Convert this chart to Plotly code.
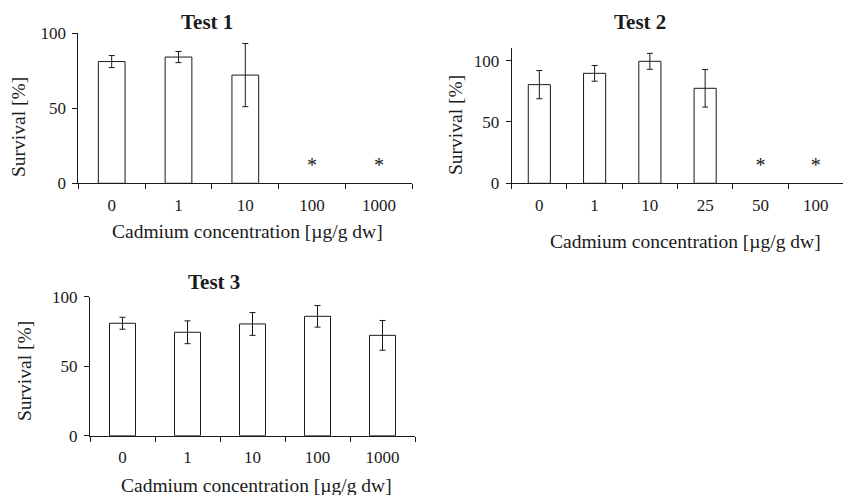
import plotly.graph_objects as go

# ---------------- data ----------------
t1_labels = ["0", "1", "10", "100", "1000"]
t1_mean = [81, 84, 72, None, None]
t1_err = [4, 3.7, 21, None, None]
t1_star = [None, None, None, 11, 11]

t2_labels = ["0", "1", "10", "25", "50", "100"]
t2_mean = [80.4, 89.6, 99.4, 77.4, None, None]
t2_err = [11.5, 6.4, 6.5, 15.3, None, None]
t2_star = [None, None, None, None, 13.3, 13.3]

t3_labels = ["0", "1", "10", "100", "1000"]
t3_mean = [80.9, 74.4, 80.4, 85.9, 72.2]
t3_err = [4.3, 8.2, 8.2, 7.8, 10.7]

titles = ["Test 1", "Test 2", "Test 3"]
x_title = "Cadmium concentration [µg/g dw]"
y_title = "Survival [%]"

# ---------------- figure ----------------
W, H = 846, 495
FONT = "Liberation Serif"
INK = "#1a1a1a"

def px(x):
    return x / W

def py(y):
    return 1 - y / H

fig = go.Figure()

panels = [
    ("x", "y", t1_labels, t1_mean, t1_err, t1_star),
    ("x2", "y2", t2_labels, t2_mean, t2_err, t2_star),
    ("x3", "y3", t3_labels, t3_mean, t3_err, None),
]

for xa, ya, labels, mean, err, star in panels:
    fig.add_trace(go.Bar(
        x=labels, y=mean, xaxis=xa, yaxis=ya, width=0.4,
        marker=dict(color="white", line=dict(color=INK, width=1)),
        error_y=dict(type="data", array=err, visible=True,
                     color=INK, thickness=1, width=3),
        showlegend=False, hoverinfo="skip",
    ))
    if star is not None:
        fig.add_trace(go.Scatter(
            x=labels, y=star, xaxis=xa, yaxis=ya, mode="text",
            text=["*" if s is not None else "" for s in star],
            textfont=dict(family=FONT, size=20, color=INK),
            textposition="middle center",
            showlegend=False, hoverinfo="skip",
        ))

def xaxis(domain, labels, anchor):
    return dict(
        domain=domain, anchor=anchor, type="category",
        range=[-0.5, len(labels) - 0.5],
        categoryorder="array", categoryarray=labels,
        showline=True, linecolor=INK, linewidth=1,
        ticks="outside", tickson="boundaries", ticklen=5, tickcolor=INK,
        tickfont=dict(family=FONT, size=17, color=INK),
        ticklabelstandoff=6, automargin=False,
        showgrid=False, zeroline=False, fixedrange=True,
    )

def yaxis(domain, top, anchor):
    return dict(
        domain=domain, anchor=anchor, range=[0, top],
        tickvals=[0, 50, 100],
        showline=True, linecolor=INK, linewidth=1,
        ticks="outside", ticklen=5, tickcolor=INK,
        tickfont=dict(family=FONT, size=17, color=INK),
        ticklabelstandoff=3, automargin=False,
        showgrid=False, zeroline=False, fixedrange=True,
    )

fig.update_layout(
    template="none",
    width=W, height=H,
    margin=dict(l=0, r=0, t=0, b=0, pad=0),
    paper_bgcolor="white", plot_bgcolor="white",
    font=dict(family=FONT, color=INK),
    bargap=0.6,
    xaxis=xaxis([px(78.3), px(412.3)], t1_labels, "y"),
    yaxis=yaxis([py(183.3), py(33)], 100, "x"),
    xaxis2=xaxis([px(511.7), px(843.3)], t2_labels, "y2"),
    yaxis2=yaxis([py(183.3), py(48.3)], 110, "x2"),
    xaxis3=xaxis([px(90), px(415)], t3_labels, "y3"),
    yaxis3=yaxis([py(435.7), py(296.7)], 100, "x3"),
)

ann = []
# panel titles
for (cx, cy), t in zip([(207, 22.5), (640, 22), (214, 281.5)], titles):
    ann.append(dict(x=px(cx), y=py(cy), xref="paper", yref="paper",
                    text=f"<b>{t}</b>", showarrow=False,
                    xanchor="center", yanchor="middle",
                    font=dict(family=FONT, size=21, color=INK)))
# x axis titles
for cx, cy in [(248, 231), (685, 241), (256, 485)]:
    ann.append(dict(x=px(cx), y=py(cy), xref="paper", yref="paper",
                    text=x_title, showarrow=False,
                    xanchor="center", yanchor="middle",
                    font=dict(family=FONT, size=19.5, color=INK)))
# y axis titles
for cx, cy in [(18, 127), (455, 125), (24, 371)]:
    ann.append(dict(x=px(cx), y=py(cy), xref="paper", yref="paper",
                    text=y_title, showarrow=False, textangle=-90,
                    xanchor="center", yanchor="middle",
                    font=dict(family=FONT, size=19.5, color=INK)))
fig.update_layout(annotations=ann)

fig.write_html(
    "out.html",
    config={"displayModeBar": False, "staticPlot": True},
    post_script="document.body.style.margin='0';document.body.style.overflow='hidden';",
)
